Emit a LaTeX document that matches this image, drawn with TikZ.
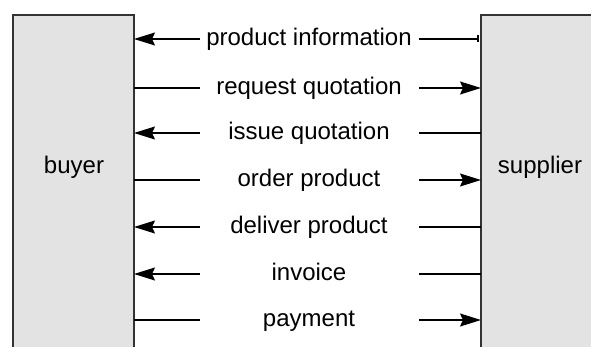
\documentclass[tikz,border=0pt]{standalone}
\usepackage{fontspec}
\setmainfont{Liberation Sans}
\usetikzlibrary{arrows.meta}

\begin{document}
\begin{tikzpicture}[x=1pt, y=-1pt, line width=1.4pt,
  box/.style={draw=black!80, fill=black!11, line width=1.8pt, inner sep=0pt, outer sep=0pt, anchor=north west},
  msg/.style={font=\fontsize{24}{28}\selectfont, text height=18.5pt, text depth=6pt, inner sep=0pt},
  arrowend/.style={-{Stealth[length=21pt, width=13pt, inset=3pt]}},
  barend/.style={-{Bar[width=7pt]}, shorten >=2.5pt},
  noend/.style={-}]
  \useasboundingbox (0,0) rectangle (591,347);
  \node[box, minimum width=121pt, minimum height=400pt] (buyerbox) at (13,15) {};
  \node[box, minimum width=140pt, minimum height=400pt] (supplierbox) at (481,15) {};
  \node[msg] (buyer) at (74,167) {buyer};
  \node[msg] (supplier) at (540,167) {supplier};
  % messages: y / label / end at buyer / end at supplier
  \foreach \y/\txt/\ls/\rs [count=\i] in {39/{product information}/arrowend/barend,
      88/{request quotation}/noend/arrowend, 133/{issue quotation}/arrowend/noend,
      180/{order product}/noend/arrowend, 227/{deliver product}/arrowend/noend,
      274/{invoice}/arrowend/noend, 320/{payment}/noend/arrowend} {
    \node[msg] (m\i) at (309,\y) {\txt};
    \coordinate (m\i l) at (200,\y);
    \coordinate (m\i r) at (419,\y);
    \draw[\ls] (m\i l) -- (buyerbox.east |- m\i l);
    \draw[\rs] (m\i r) -- (supplierbox.west |- m\i r);
  }
\end{tikzpicture}
\end{document}
